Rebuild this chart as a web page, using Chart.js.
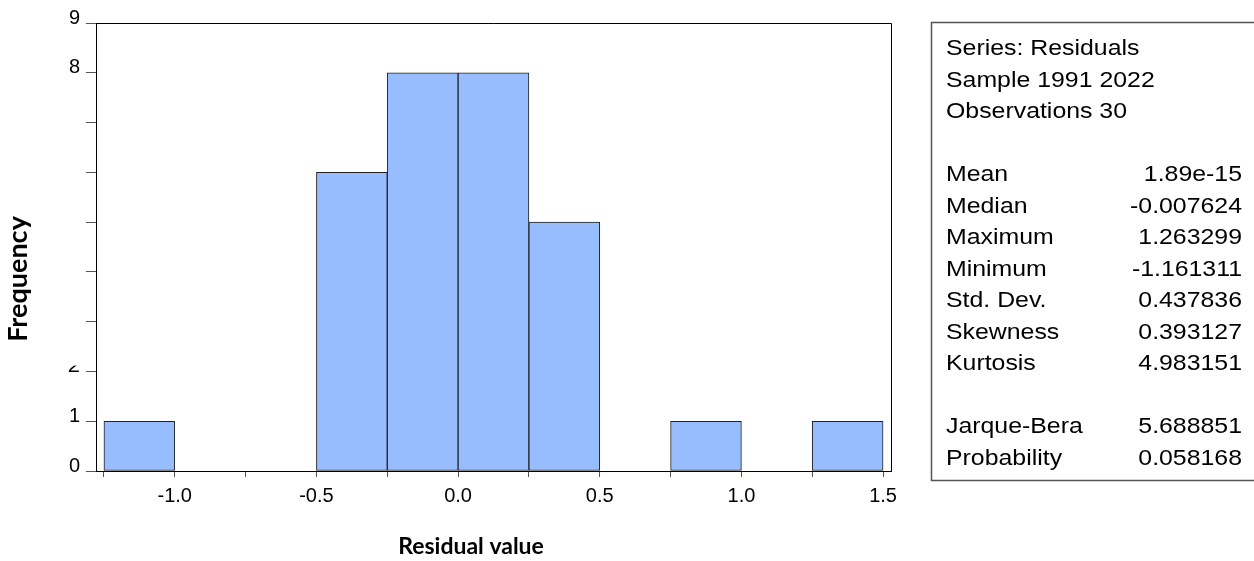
<!DOCTYPE html>
<html>
<head>
    <meta charset="utf-8">
    <title>Histogram of residuals</title>
    <script src="https://cdn.jsdelivr.net/npm/chart.js@4.4.0/dist/chart.umd.min.js"></script>
    <style>
        body{
            margin: 0;
            background-color: #ffffff;
        }
        #wrap{
            width: 1254px;
            height: 561px;
            position: relative;
        }
    </style>
</head>
<body>
    <div id="wrap">
        <canvas id="histChart"></canvas>
    </div>

    <script>
        // histogram bins (centre of each 0.25 wide bin) and counts
        const binCenters = [-1.125, -0.875, -0.625, -0.375, -0.125, 0.125, 0.375, 0.625, 0.875, 1.125, 1.375]
        const counts = [1, 0, 0, 6, 8, 8, 5, 0, 1, 0, 1]

        // axis ticks
        const xTicks = [-1.25, -1.0, -0.75, -0.5, -0.25, 0.0, 0.25, 0.5, 0.75, 1.0, 1.25, 1.5]
        const xTickLabels = ['', '-1.0', '', '-0.5', '', '0.0', '', '0.5', '', '1.0', '', '1.5']
        const yTicks = [0, 1, 2, 3, 4, 5, 6, 7, 8, 9]
        const yTickLabels = ['0', '1', '', '', '', '', '', '', '8', '9']
        const yCutLabel = {value: 2, text: '2'}

        // statistics box
        const statsHeader = ['Series: Residuals', 'Sample 1991 2022', 'Observations 30']
        const statNames = ['Mean', 'Median', 'Maximum', 'Minimum', 'Std. Dev.', 'Skewness', 'Kurtosis']
        const statValues = ['1.89e-15', '-0.007624', '1.263299', '-1.161311', '0.437836', '0.393127', '4.983151']
        const testNames = ['Jarque-Bera', 'Probability']
        const testValues = ['5.688851', '0.058168']

        const xTitle = 'Residual value'
        const yTitle = 'Frequency'

        const barColor = '#97bdff'
        const tickFont = '"Liberation Sans", Arial, sans-serif'

        function drawStretched(ctx, text, x, y, align, sx){
            ctx.save()
            ctx.translate(x, y)
            ctx.scale(sx, 1)
            ctx.textAlign = align
            ctx.fillText(text, 0, 0)
            ctx.restore()
        }

        const extrasPlugin = {
            id: 'extras',
            afterDraw(chart){
                const ctx = chart.ctx
                const area = chart.chartArea
                const ys = chart.scales.y

                ctx.save()
                // top and right frame of the plot
                ctx.strokeStyle = '#000'
                ctx.lineWidth = 1
                ctx.beginPath()
                ctx.moveTo(area.left, area.top + 0.5)
                ctx.lineTo(area.right + 0.5, area.top + 0.5)
                ctx.lineTo(area.right + 0.5, area.bottom)
                ctx.stroke()

                // the half hidden "2" tick label
                const py = ys.getPixelForValue(yCutLabel.value)
                ctx.beginPath()
                ctx.rect(40, py - 6, 50, 20)
                ctx.clip()
                ctx.fillStyle = '#000'
                ctx.font = '20px ' + tickFont
                ctx.textBaseline = 'middle'
                ctx.textAlign = 'right'
                drawStretched(ctx, yCutLabel.text, 80, py - 5, 'right', 1.1)
                ctx.restore()

                // statistics box
                ctx.save()
                ctx.strokeStyle = '#555'
                ctx.lineWidth = 1.5
                ctx.strokeRect(931.5, 22.5, 340, 458)
                ctx.fillStyle = '#000'
                ctx.font = '22px ' + tickFont
                ctx.textBaseline = 'alphabetic'
                const left = 946, right = 1242, sx = 1.13
                const row = function(k){ return 55 + 31.5 * k }
                for(let i = 0; i < statsHeader.length; i++){
                    drawStretched(ctx, statsHeader[i], left, row(i), 'left', sx)
                }
                for(let i = 0; i < statNames.length; i++){
                    drawStretched(ctx, statNames[i], left, row(i + 4), 'left', sx)
                    drawStretched(ctx, statValues[i], right, row(i + 4), 'right', sx)
                }
                for(let i = 0; i < testNames.length; i++){
                    drawStretched(ctx, testNames[i], left, row(i + 12), 'left', sx)
                    drawStretched(ctx, testValues[i], right, row(i + 12), 'right', sx)
                }

                // axis titles
                ctx.font = 'bold 23px Lato, "Open Sans", sans-serif'
                ctx.textAlign = 'center'
                ctx.textBaseline = 'middle'
                ctx.fillText(xTitle, 471, 547)
                ctx.translate(18, 279)
                ctx.rotate(-Math.PI / 2)
                ctx.font = 'bold 27px Lato, "Open Sans", sans-serif'
                ctx.fillText(yTitle, 0, 0)
                ctx.restore()
            }
        }

        const ctx1 = document.getElementById('histChart').getContext('2d')

        const barData = []
        for(i = 0; i < binCenters.length; i++){
            barData.push({x: binCenters[i], y: counts[i] > 0 ? counts[i] : null})
        }

        const mychart = new Chart(ctx1, {
            type: 'bar',
            data: {
                datasets: [{
                    label: 'Residuals',
                    data: barData,
                    backgroundColor: barColor,
                    borderColor: '#222',
                    borderWidth: 1,
                    borderSkipped: false,
                    barPercentage: 1.0,
                    categoryPercentage: 1.0,
                    grouped: false
                }]
            },
            options: {
                responsive: true,
                maintainAspectRatio: false,
                animation: false,
                events: [],
                layout: {
                    padding: {left: 0, top: 23, right: 363, bottom: 0}
                },
                plugins: {
                    legend: {display: false},
                    tooltip: {enabled: false},
                    title: {display: false}
                },
                scales: {
                    x: {
                        type: 'linear',
                        min: -1.278,
                        max: 1.528,
                        offset: false,
                        afterBuildTicks: function(scale){
                            scale.ticks = xTicks.map(function(v){ return {value: v} })
                        },
                        afterFit: function(scale){ scale.height = 90 },
                        grid: {
                            offset: false,
                            drawOnChartArea: false,
                            drawTicks: true,
                            tickLength: 6,
                            color: '#555'
                        },
                        border: {display: true, color: '#000', width: 1},
                        ticks: {
                            autoSkip: false,
                            maxRotation: 0,
                            padding: 7,
                            color: '#000',
                            font: {family: tickFont, size: 20},
                            callback: function(value, index){ return xTickLabels[index] }
                        }
                    },
                    y: {
                        type: 'linear',
                        min: 0,
                        max: 9,
                        afterBuildTicks: function(scale){
                            scale.ticks = yTicks.map(function(v){ return {value: v} })
                        },
                        afterFit: function(scale){ scale.width = 96 },
                        grid: {
                            drawOnChartArea: false,
                            drawTicks: true,
                            tickLength: 10,
                            color: '#555'
                        },
                        border: {display: true, color: '#000', width: 1},
                        ticks: {
                            autoSkip: false,
                            padding: 6,
                            labelOffset: -5,
                            color: '#000',
                            font: {family: tickFont, size: 20},
                            callback: function(value, index){ return yTickLabels[index] }
                        }
                    }
                }
            },
            plugins: [extrasPlugin]
        })
    </script>
</body>
</html>
